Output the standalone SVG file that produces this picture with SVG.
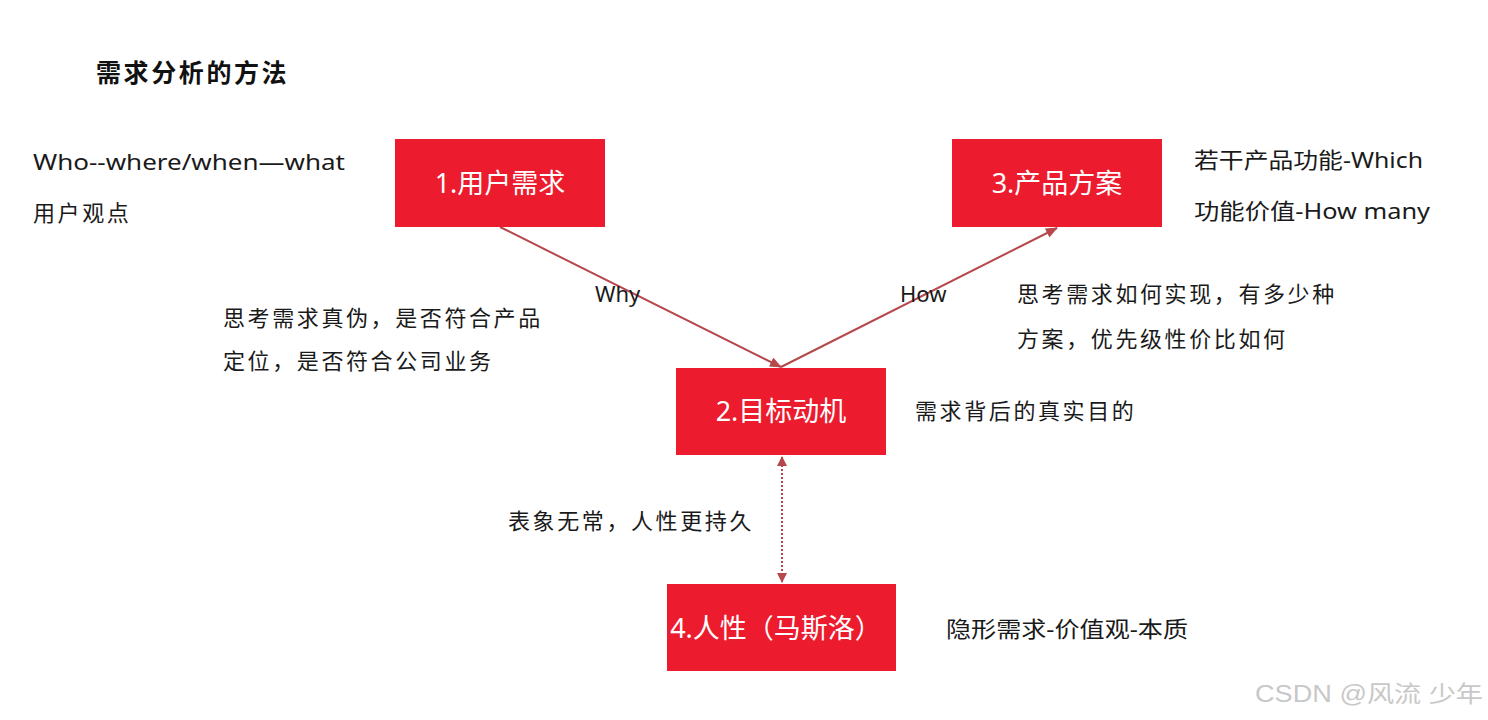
<svg xmlns="http://www.w3.org/2000/svg" width="1488" height="720" viewBox="0 0 1488 720">
<style>
.t{font-family:"Noto Sans","Noto Sans CJK SC",sans-serif;font-size:22px;fill:#1a1a1a;letter-spacing:2.6px}
.lat{font-family:"Noto Sans","Noto Sans CJK SC",sans-serif;font-size:22px;fill:#1a1a1a}
.box{fill:#EC1B2E}
.bl{font-family:"Noto Sans","Noto Sans CJK SC",sans-serif;font-size:27px;fill:#ffffff;text-anchor:middle}
.c{stroke:#B5474D;stroke-width:2;fill:none}
</style>
<defs>
<marker id="ah" markerWidth="12" markerHeight="10" refX="11" refY="5" orient="auto" markerUnits="userSpaceOnUse">
<path d="M0,0 L12,5 L0,10 Z" fill="#B5474D"/>
</marker>
<marker id="ahs" markerWidth="10" markerHeight="10" refX="9" refY="5" orient="auto-start-reverse" markerUnits="userSpaceOnUse">
<path d="M0,0 L10,5 L0,10 Z" fill="#B5474D"/>
</marker>
</defs>
<rect width="1488" height="720" fill="#ffffff"/>
<text x="96" y="82" font-family="Noto Sans CJK SC, sans-serif" font-size="25" font-weight="bold" fill="#111" letter-spacing="2.6">需求分析的方法</text>
<g id="connectors">
<line class="c" x1="500" y1="227" x2="781" y2="367" marker-end="url(#ah)"/>
<line class="c" x1="781" y1="367" x2="1057" y2="228" marker-end="url(#ah)"/>
<line class="c" x1="782" y1="457" x2="782" y2="582" stroke-dasharray="2,2" marker-start="url(#ahs)" marker-end="url(#ahs)"/>
</g>
<g id="node1"><rect class="box" x="395" y="139" width="210" height="88"/><text class="bl" x="500" y="193">1.用户需求</text></g>
<g id="node3"><rect class="box" x="952" y="139" width="210" height="88"/><text class="bl" x="1057" y="193">3.产品方案</text></g>
<g id="node2"><rect class="box" x="676" y="368" width="210" height="87"/><text class="bl" x="781" y="421">2.目标动机</text></g>
<g id="node4"><rect class="box" x="667" y="584" width="229" height="87"/><text class="bl" x="776" y="638">4.人性（马斯洛）</text></g>
<text class="lat" x="33" y="170" font-size="24" textLength="312" lengthAdjust="spacingAndGlyphs">Who--where/when—what</text>
<text class="t" x="33" y="221">用户观点</text>
<text class="lat" x="1194" y="168" textLength="229" lengthAdjust="spacingAndGlyphs" font-size="23">若干产品功能-Which</text>
<text class="lat" x="1194" y="219" textLength="236" lengthAdjust="spacingAndGlyphs" font-size="23">功能价值-How many</text>
<text class="lat" x="595" y="302" font-size="23">Why</text>
<text class="lat" x="900" y="302" font-size="23">How</text>
<text class="t" x="223" y="326">思考需求真伪，是否符合产品</text>
<text class="t" x="223" y="369">定位，是否符合公司业务</text>
<text class="t" x="1017" y="302">思考需求如何实现，有多少种</text>
<text class="t" x="1017" y="347">方案，优先级性价比如何</text>
<text class="t" x="915" y="419">需求背后的真实目的</text>
<text class="t" x="508" y="529">表象无常，人性更持久</text>
<text class="lat" x="946" y="637" textLength="242" lengthAdjust="spacingAndGlyphs" font-size="23">隐形需求-价值观-本质</text>
<text x="1255" y="702" font-family="Liberation Sans, Noto Sans CJK SC, sans-serif" font-size="23" fill="#c8c8c8" textLength="228" lengthAdjust="spacingAndGlyphs">CSDN @风流 少年</text>
</svg>
